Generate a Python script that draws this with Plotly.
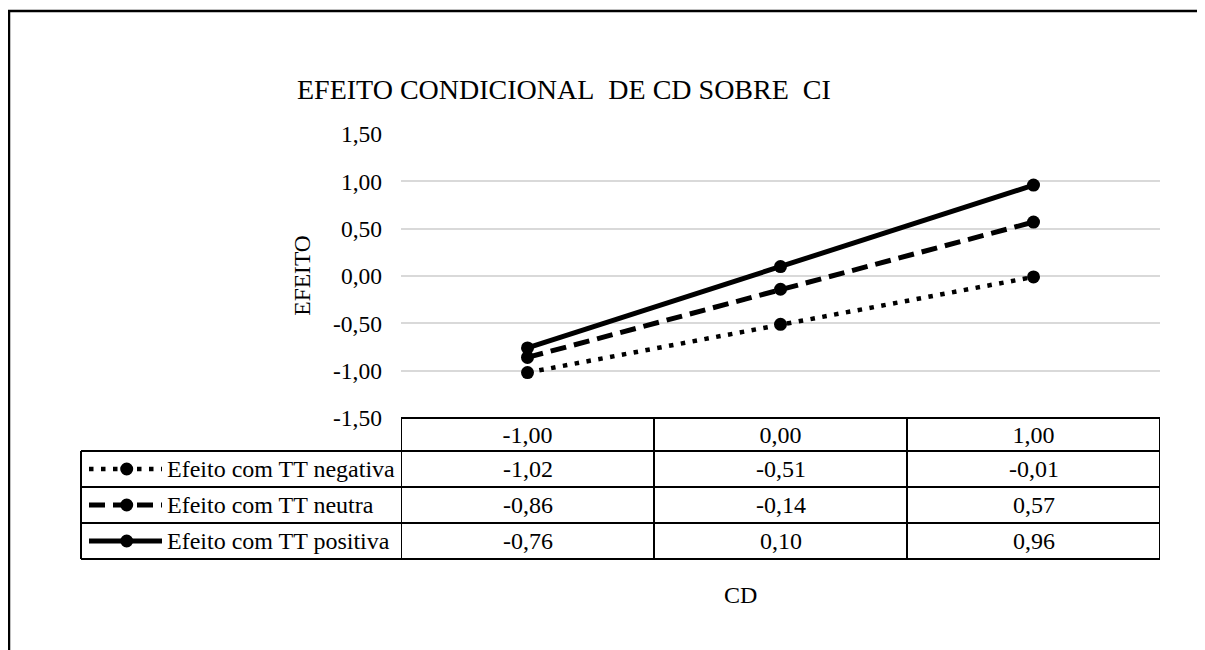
import plotly.graph_objects as go

# ---------------- data ----------------
categories = ["-1,00", "0,00", "1,00"]
series_names = ["Efeito com TT negativa", "Efeito com TT neutra", "Efeito com TT positiva"]
negativa = [-1.02, -0.51, -0.01]
neutra = [-0.86, -0.14, 0.57]
positiva = [-0.76, 0.10, 0.96]
y_tickvals = [-1.5, -1.0, -0.5, 0.0, 0.5, 1.0, 1.5]
y_ticktext = ["-1,50", "-1,00", "-0,50", "0,00", "0,50", "1,00", "1,50"]
title_text = "EFEITO CONDICIONAL\u00a0 DE CD SOBRE\u00a0 CI"
y_title = "EFEITO"
x_title = "CD"

series_values = [negativa, neutra, positiva]

# ---------------- geometry helpers (screen pixel coords) ----------------
OFF = 8                      # page body margin
WIN_W, WIN_H = 1205, 650
W, H = WIN_W - OFF, WIN_H - OFF
L, R, T, B = 401, 1160, 134, 418


def px(x):
    return (x - L) / (R - L)


def py(y):
    return (B - y) / (B - T)


def fmt(v):
    return f"{v:.2f}".replace(".", ",")


FONT = "Liberation Serif"
styles = [
    dict(dash="4.5px,7.5px", width=4.5),
    dict(dash="16px,8px", width=5),
    dict(dash="solid", width=5),
]

fig = go.Figure()
for name, vals, st in zip(series_names, series_values, styles):
    fig.add_trace(go.Scatter(
        x=categories, y=vals, name=name, mode="lines+markers",
        line=dict(color="black", width=st["width"], dash=st["dash"]),
        marker=dict(color="black", size=13, symbol="circle"),
        showlegend=False, cliponaxis=False,
    ))

shapes = []
# outer border (only top & left visible)
shapes.append(dict(type="rect", xref="paper", yref="paper",
                   x0=px(9), x1=px(1240), y0=py(11), y1=py(700),
                   line=dict(color="black", width=2.5), layer="below"))

row_lines = [451, 487, 523, 559]
row_centers = [469, 505, 541]
line_style = dict(color="black", width=2)
shapes.append(dict(type="line", xref="paper", yref="paper",
                   x0=px(L), x1=px(R), y0=py(418), y1=py(418), line=line_style))
for ry in row_lines:
    shapes.append(dict(type="line", xref="paper", yref="paper",
                       x0=px(81), x1=px(R), y0=py(ry), y1=py(ry), line=line_style))
shapes.append(dict(type="line", xref="paper", yref="paper",
                   x0=px(81), x1=px(81), y0=py(451), y1=py(559), line=line_style))
for xv in [-0.5, 0.5, 1.5, 2.5]:
    shapes.append(dict(type="line", xref="x", yref="paper",
                       x0=xv, x1=xv, y0=py(418), y1=py(559), line=line_style))

# legend keys inside the data table
for rc, st in zip(row_centers, styles):
    shapes.append(dict(type="line", xref="paper", yref="paper",
                       x0=px(89), x1=px(162), y0=py(rc), y1=py(rc),
                       line=dict(color="black", width=st["width"], dash=st["dash"])))
    shapes.append(dict(type="circle", xref="paper", yref="paper",
                       x0=px(126.7 - 6.5), x1=px(126.7 + 6.5), y0=py(rc - 6.5), y1=py(rc + 6.5),
                       fillcolor="black", line=dict(color="black", width=0)))

annotations = []
annotations.append(dict(text=title_text, xref="paper", yref="paper",
                        x=px(295), y=py(89), xanchor="left", yanchor="middle",
                        showarrow=False, font=dict(family=FONT, size=28, color="black")))
annotations.append(dict(text=y_title, xref="paper", yref="paper",
                        x=px(301.7), y=py(275), xanchor="center", yanchor="middle",
                        textangle=-90, showarrow=False,
                        font=dict(family=FONT, size=23.5, color="black")))
annotations.append(dict(text=x_title, xref="paper", yref="paper",
                        x=px(740), y=py(595), xanchor="center", yanchor="middle",
                        showarrow=False, font=dict(family=FONT, size=24, color="black")))
for rc, name, vals in zip(row_centers, series_names, series_values):
    annotations.append(dict(text=name, xref="paper", yref="paper",
                            x=px(165), y=py(rc), xanchor="left", yanchor="middle",
                            showarrow=False, font=dict(family=FONT, size=24, color="black")))
    for c, v in zip(categories, vals):
        annotations.append(dict(text=fmt(v), xref="x", yref="paper",
                                x=c, y=py(rc), xanchor="center", yanchor="middle",
                                showarrow=False, font=dict(family=FONT, size=24, color="black")))

fig.update_layout(
    width=W, height=H,
    margin=dict(l=L - OFF, r=WIN_W - R, t=T - OFF, b=WIN_H - B, pad=0),
    paper_bgcolor="white", plot_bgcolor="white",
    font=dict(family=FONT, size=23.5, color="black"),
    xaxis=dict(type="category", categoryorder="array", categoryarray=categories,
               range=[-0.5, 2.5], showgrid=False, zeroline=False, showline=False,
               ticks="", tickfont=dict(family=FONT, size=24, color="black"),
               ticklabelstandoff=0),
    yaxis=dict(range=[-1.5, 1.5], tickvals=y_tickvals, ticktext=y_ticktext,
               showgrid=True, gridcolor="#d9d9d9", gridwidth=1.5, zeroline=False,
               showline=False, ticks="", ticklabelstandoff=18,
               tickfont=dict(family=FONT, size=23.5, color="black")),
    shapes=shapes, annotations=annotations,
)

fig.write_html("out.html")
